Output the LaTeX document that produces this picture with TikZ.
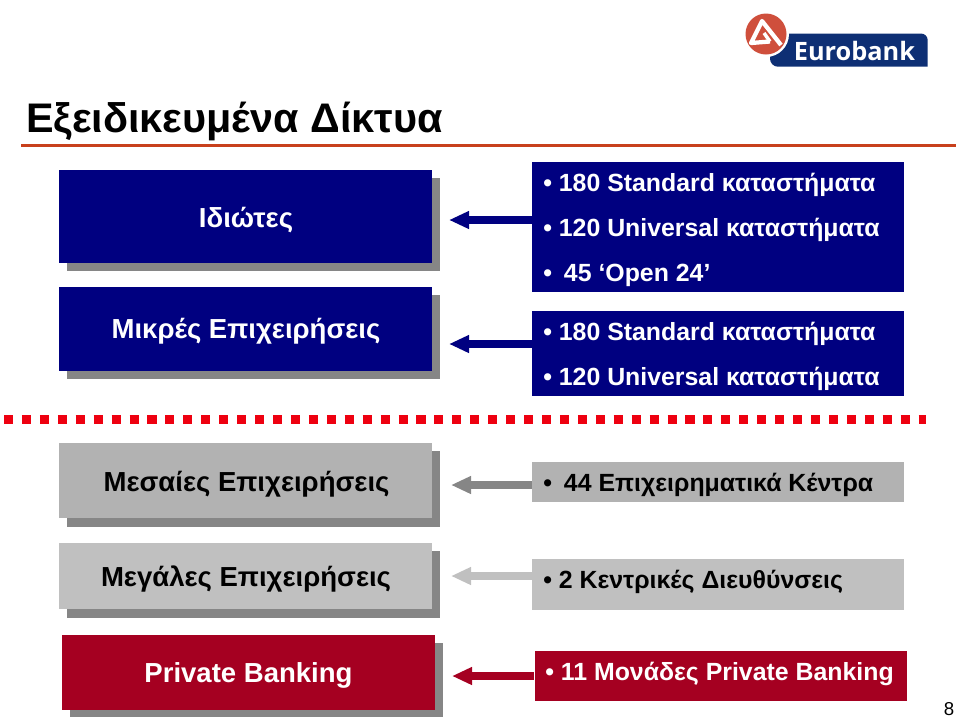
\documentclass[tikz,border=0pt]{standalone}
\usepackage{fontspec}
\setmainfont{Liberation Sans}
\newfontfamily\logofont{Open Sans}
\usetikzlibrary{arrows.meta,calc}
\definecolor{navyb}{HTML}{000080}
\definecolor{crim}{HTML}{A50021}
\definecolor{graya}{HTML}{B2B2B2}
\definecolor{grayb}{HTML}{C0C0C0}
\definecolor{shad}{HTML}{868686}
\definecolor{rust}{HTML}{C8401C}
\definecolor{sepred}{HTML}{EE0010}
\definecolor{logored}{HTML}{CF4F3C}
\definecolor{logoblue}{HTML}{0E2F74}
\newcommand{\fs}[1]{\fontsize{#1}{#1}\selectfont}
\tikzset{
  x=0.75pt,y=-0.75pt,
  lbox/.style={rectangle,inner sep=0pt,minimum width=279.75pt},
  rbox/.style={rectangle,inner sep=0pt,minimum width=279pt},
  lab/.style={anchor=base,inner sep=0pt,font=\bfseries\fs{20.65}},
  bul/.style={anchor=base west,inner sep=0pt,font=\bfseries\fs{18.65},text=white},
  conn/.style={line width=5.5pt,-{Triangle[length=15pt,width=12.5pt]}},
}
\begin{document}
\begin{tikzpicture}
\useasboundingbox (0,0) rectangle (960,719);
% logo
\fill[logoblue] (770,33.5) [rounded corners=5pt] -- (927.7,33.5) [sharp corners] -- (927.7,66.7) [rounded corners=6pt] -- (770,66.7) [sharp corners] -- (770,33.5) -- cycle;
\fill[white] (766,34) circle (23);
\fill[logored] (766,34) circle (20.5);
\draw[white,line width=3.2pt,line join=round] (770,41.5) -- (751,43) -- (762,21) -- (781,45);
\draw[white,line width=2.6pt] (764,33) -- (770,41.5);
\node[anchor=base,inner sep=0pt,text=white,font=\logofont\bfseries\fs{19}] (logotext) at (854.5,60) {Eurobank};
% title
\node[anchor=base west,inner sep=0pt,font=\bfseries\fs{31}] (title) at (26,132) {Εξειδικευμένα Δίκτυα};
\coordinate (rulea) at (21,145.5);
\coordinate (ruleb) at (956,145.5);
\draw[rust,line width=2.6pt] (rulea) -- (ruleb);
% separator
\coordinate (sepa) at (4,419.5);
\coordinate (sepb) at (926,419.5);
\draw[sepred,line width=6.8pt,dash pattern=on 6.8pt off 6.65pt] (sepa) -- (sepb);
% left boxes
\fill[shad] (67,178) rectangle (440,271);
\node[lbox,fill=navyb,minimum height=69.75pt] (l1) at (245.5,216.5) {};
\node[lab,text=white] (l1t) at (246,227.5) {Ιδιώτες};
\fill[shad] (67,295) rectangle (440,379);
\node[lbox,fill=navyb,minimum height=63pt] (l2) at (245.5,329) {};
\node[lab,text=white] (l2t) at (246,338.5) {Μικρές Επιχειρήσεις};
\fill[shad] (67,451) rectangle (440,527);
\node[lbox,fill=graya,minimum height=56.25pt] (l3) at (245.5,480.5) {};
\node[lab] (l3t) at (246.5,491) {Μεσαίες Επιχειρήσεις};
\fill[shad] (67,551) rectangle (440,618);
\node[lbox,fill=grayb,minimum height=49.5pt] (l4) at (245.5,576) {};
\node[lab] (l4t) at (246,586) {Μεγάλες Επιχειρήσεις};
\fill[shad] (70,643) rectangle (443,717);
\node[lbox,fill=crim,minimum height=56.25pt] (l5) at (248.5,672) {};
\node[lab,text=white] (l5t) at (248.5,682) {Private Banking};
% right boxes
\node[rbox,fill=navyb,minimum height=97.5pt] (r1) at (718,227) {};
\node[rbox,fill=navyb,minimum height=63.75pt] (r2) at (718,353.5) {};
\node[rbox,fill=graya,minimum height=30pt] (r3) at (718,482) {};
\node[rbox,fill=grayb,minimum height=38.25pt] (r4) at (718,584.5) {};
\node[rbox,fill=crim,minimum height=37.5pt] (r5) at (720.5,676) {};
% arrows
\coordinate (t1) at (449,220);
\coordinate (t2) at (449,344);
\coordinate (t3) at (451,485);
\coordinate (t4) at (451,576);
\coordinate (t5) at (452,676);
\draw[conn,navyb] (r1.west |- t1) -- (t1);
\draw[conn,navyb] (r2.west |- t2) -- (t2);
\draw[conn,shad] (r3.west |- t3) -- (t3);
\draw[conn,grayb] (r4.west |- t4) -- (t4);
\draw[conn,crim] (r5.west |- t5) -- (t5);
% right texts
\node[bul] (b1a) at (543,191.5) {• 180 Standard καταστήματα};
\node[bul] (b1b) at (543,236.5) {• 120 Universal καταστήματα};
\node[bul] (b1c) at (543,281) {•\hspace{9pt}45 ‘Open 24’};
\node[bul] (b2a) at (543,340.5) {• 180 Standard καταστήματα};
\node[bul] (b2b) at (543,385.5) {• 120 Universal καταστήματα};
\node[bul,text=black] (b3) at (543,491) {•\hspace{9pt}44 Επιχειρηματικά Κέντρα};
\node[bul,text=black] (b4) at (543,588) {• 2 Κεντρικές Διευθύνσεις};
\node[bul] (b5) at (545,680) {• 11 Μονάδες Private Banking};
\node[inner sep=0pt,font=\fs{14}] (pg) at (949,709) {8};
\end{tikzpicture}
\end{document}
